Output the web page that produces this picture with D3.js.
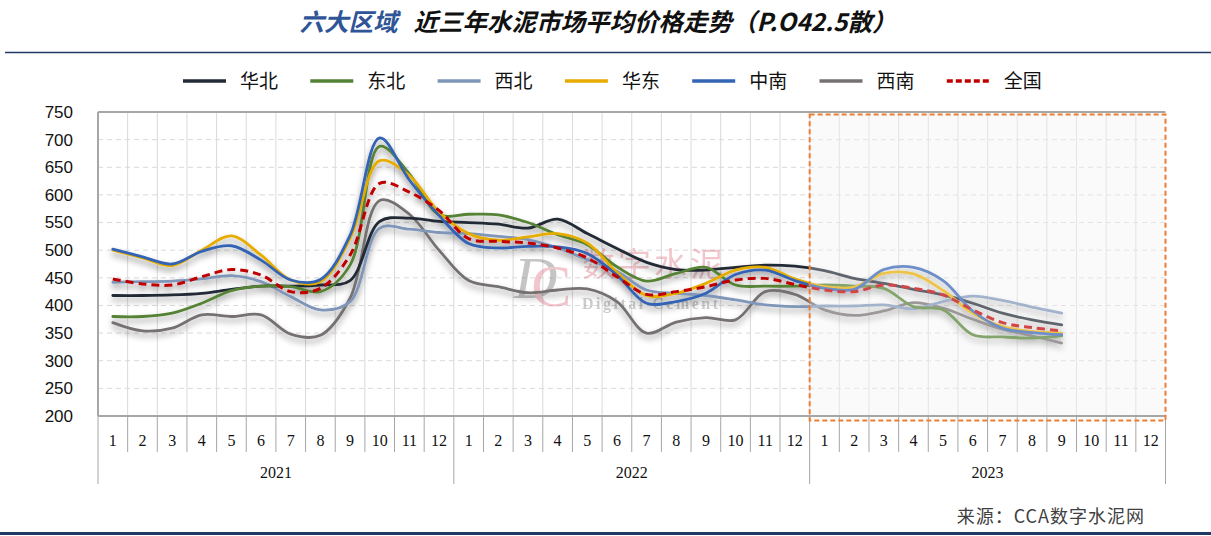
<!DOCTYPE html>
<html><head><meta charset="utf-8">
<script src="https://cdn.jsdelivr.net/npm/d3@7/dist/d3.min.js"></script>
<style>
html,body{margin:0;padding:0;background:#fff;}
svg{display:block;}
</style></head>
<body>
<svg id="chart" width="1211" height="536"></svg>
<script>
const years = ["2021","2022","2023"];
const months = ["1","2","3","4","5","6","7","8","9","10","11","12"];
const yTicks = [200,250,300,350,400,450,500,550,600,650,700,750];

const seriesNames = ["华北","东北","西北","华东","中南","西南","全国"];
const seriesColors = ["#222a35","#548235","#7f96b8","#e6ad00","#3464b4","#767171","#c00000"];

const huabei   = [418,418,419,422,429,435,435,437,445,552,558,552, 550,547,540,556,530,503,478,465,464,469,473,471, 463,449,440,429,419,404,386,374,365,null,null,null];
const dongbei  = [380,380,386,404,427,435,434,425,473,688,638,564, 565,564,550,528,510,470,444,458,469,437,435,435, 437,435,431,398,392,347,343,341,345,null,null,null];
const xibei    = [442,443,444,448,454,443,416,392,407,540,538,532, 530,525,519,504,483,462,428,422,418,410,401,398, 399,399,401,394,407,417,409,397,386,null,null,null];
const huadong  = [500,486,472,500,526,491,446,443,521,662,635,569, 530,518,524,530,513,460,418,422,440,464,469,448, 434,433,458,457,427,386,362,353,350,null,null,null];
const zhongnan = [502,488,475,498,508,482,446,447,527,703,627,563, 512,504,507,506,494,455,404,407,422,456,464,445, 431,429,465,469,445,390,359,351,347,null,null,null];
const xinan    = [369,354,359,383,380,383,348,346,413,590,565,500, 445,434,423,428,430,407,350,370,378,374,425,420, 392,382,390,405,395,375,357,345,332,null,null,null];
const quanguo  = [448,439,437,452,465,455,425,431,491,621,605,572, 521,516,513,504,486,452,420,425,434,446,449,438, 428,425,437,431,419,392,369,360,354,null,null,null];
const seriesValues = [huabei,dongbei,xibei,huadong,zhongnan,xinan,quanguo];

const svg = d3.select("#chart");
const pLeft = 98, pRight = 1165.5, pTop = 112, pBottom = 416;
const n = years.length * months.length;
const idx = d3.range(n);
const x = d3.scaleBand().domain(idx).range([pLeft, pRight]).paddingInner(0).paddingOuter(0);
const y = d3.scaleLinear().domain([200,750]).range([pBottom, pTop]);
const bw = x.bandwidth();

// defs
const defs = svg.append("defs");
const f = defs.append("filter").attr("id","shadow").attr("x","-5%").attr("y","-20%").attr("width","110%").attr("height","160%");
f.append("feDropShadow").attr("dx",0).attr("dy",4).attr("stdDeviation",3).attr("flood-color","#000").attr("flood-opacity",0.38);

// title
const title = svg.append("text").attr("x",598).attr("y",31).attr("text-anchor","middle")
  .attr("font-family","'Noto Sans CJK SC', sans-serif").attr("font-size",24.5).attr("font-style","italic").attr("font-weight","bold");
title.append("tspan").attr("fill","#2f5597").text("六大区域");
title.append("tspan").attr("fill","#111").attr("dx",16).text("近三年水泥市场平均价格走势（P.O42.5散）");

svg.append("line").attr("x1",5).attr("x2",1211).attr("y1",52.5).attr("y2",52.5).attr("stroke","#1f3864").attr("stroke-width",1.5);
svg.append("line").attr("x1",0).attr("x2",1211).attr("y1",533.5).attr("y2",533.5).attr("stroke","#1f3864").attr("stroke-width",3);

// legend
const lg = svg.append("g");
seriesNames.forEach((name,i)=>{
  const gx = 183 + i*127.3;
  lg.append("line").attr("x1",gx).attr("x2",gx+43).attr("y1",81).attr("y2",81)
    .attr("stroke",seriesColors[i]).attr("stroke-width",3.5)
    .attr("stroke-dasharray", name==="全国" ? "6,3" : null);
  lg.append("text").attr("x",gx+57).attr("y",81).attr("dy","0.35em")
    .attr("font-family","'Noto Sans CJK SC', sans-serif").attr("font-size",19).attr("fill","#111").text(name);
});

// 2023 region background
const r0 = x(24), r1 = pRight;
svg.append("rect").attr("x",r0).attr("y",pTop+2).attr("width",r1-r0).attr("height",pBottom-pTop+1).attr("fill","#f9f9f9");

// gridlines
const grid = svg.append("g");
yTicks.filter(v=>v>200 && v<750).forEach(v=>{
  grid.append("line").attr("x1",pLeft).attr("x2",pRight).attr("y1",y(v)).attr("y2",y(v))
    .attr("stroke","#d9d9d9").attr("stroke-width",1).attr("stroke-dasharray","5,4");
});
d3.range(1,n).forEach(i=>{
  grid.append("line").attr("x1",x(i)).attr("x2",x(i)).attr("y1",pTop).attr("y2",pBottom)
    .attr("stroke","#d9d9d9").attr("stroke-width",1);
});

// watermark (logo)
const wm = svg.append("g").attr("opacity",0.42);
const dc = wm.append("text").attr("x",514).attr("y",298).attr("font-family","'Liberation Serif', serif")
  .attr("font-size",60).attr("letter-spacing",-26);
dc.append("tspan").attr("fill","#777").attr("font-style","italic").text("D");
dc.append("tspan").attr("fill","#e07a88").attr("dy",8).text("C");
wm.append("text").attr("x",582).attr("y",276).attr("font-family","'Noto Sans CJK SC', serif")
  .attr("font-size",33).attr("fill","#e07a88").attr("letter-spacing",3).text("数字水泥");
wm.append("text").attr("x",582).attr("y",309).attr("font-family","'Liberation Serif', serif").attr("font-weight","bold")
  .attr("font-size",16).attr("fill","#888").attr("letter-spacing",2.5).text("Digital Cement");

// lines
const lineGen = d3.line().defined(d=>d!=null).x((d,i)=>x(i)+bw/2).y(d=>y(d)).curve(d3.curveCatmullRom.alpha(0.5));
const order = [5,2,0,1,3,4,6];
const lines = svg.append("g").attr("filter","url(#shadow)");
order.forEach(k=>{
  lines.append("path").datum(seriesValues[k]).attr("d",lineGen)
    .attr("fill","none").attr("stroke",seriesColors[k]).attr("stroke-width", k===6?3:2.8)
    .attr("stroke-linecap", k===6 ? "butt" : "round")
    .attr("stroke-dasharray", k===6 ? "8,5" : null);
});

// 2023 overlay (washes lines)
svg.append("rect").attr("x",r0).attr("y",pTop+2).attr("width",r1-r0).attr("height",pBottom-pTop+1)
  .attr("fill","#ffffff").attr("opacity",0.28);

// frame
svg.append("line").attr("x1",pLeft).attr("x2",pRight).attr("y1",pTop).attr("y2",pTop).attr("stroke","#a6a6a6").attr("stroke-width",2);
svg.append("line").attr("x1",pLeft).attr("x2",pLeft).attr("y1",pTop).attr("y2",pBottom).attr("stroke","#a6a6a6").attr("stroke-width",2);
svg.append("line").attr("x1",pLeft).attr("x2",pRight).attr("y1",pBottom).attr("y2",pBottom).attr("stroke","#a6a6a6").attr("stroke-width",2);

// y axis labels
const yAxis = d3.axisLeft(y).tickValues(yTicks).tickSize(0).tickPadding(25);
const ya = svg.append("g").attr("transform",`translate(${pLeft},0)`).call(yAxis);
ya.select(".domain").remove();
ya.selectAll("text").attr("font-family","'Liberation Sans', Arial, sans-serif").attr("font-size",17).attr("fill","#111");

// x axis: months
const xa = svg.append("g");
idx.forEach(i=>{
  xa.append("text").attr("x",x(i)+bw/2).attr("y",440).attr("dy","0.35em").attr("text-anchor","middle")
    .attr("font-family","'Liberation Serif', 'Times New Roman', serif").attr("font-size",16).attr("fill","#111")
    .text(months[i % 12]);
});
d3.range(0,n+1).forEach(i=>{
  const xx = i===n ? pRight : x(i);
  const isYear = i % 12 === 0;
  xa.append("line").attr("x1",xx).attr("x2",xx).attr("y1",pBottom).attr("y2", isYear ? 484 : 452)
    .attr("stroke","#a6a6a6").attr("stroke-width",1);
});
years.forEach((yr,j)=>{
  const a = x(j*12), b = j===years.length-1 ? pRight : x((j+1)*12);
  xa.append("text").attr("x",(a+b)/2).attr("y",472).attr("dy","0.35em").attr("text-anchor","middle")
    .attr("font-family","'Liberation Serif', 'Times New Roman', serif").attr("font-size",16).attr("fill","#111").text(yr);
});

// 2023 dashed highlight box
svg.append("rect").attr("x",r0).attr("y",pTop+2.5).attr("width",r1-r0).attr("height",pBottom-pTop+2)
  .attr("fill","none").attr("stroke","#ed7d31").attr("stroke-width",2).attr("stroke-dasharray","5,3");

// source
svg.append("text").attr("x",1145).attr("y",517).attr("dy","0.35em").attr("text-anchor","end")
  .attr("font-family","'Noto Sans CJK SC', sans-serif").attr("font-size",18).attr("letter-spacing",1).attr("fill","#404040").text("来源：CCA数字水泥网");
</script>
</body></html>
